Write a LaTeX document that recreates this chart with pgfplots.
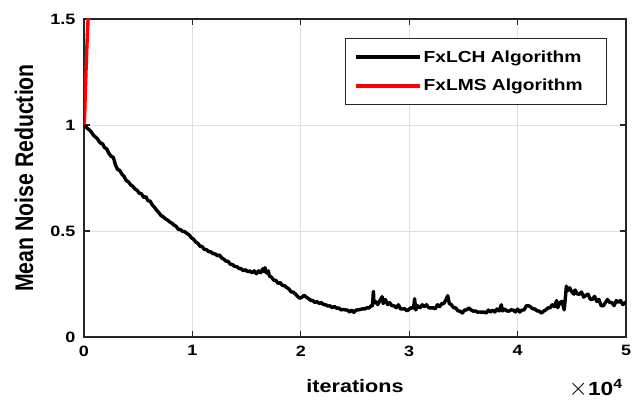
\documentclass[border=0pt]{standalone}
\usepackage{fontspec}
\setmainfont{Liberation Sans}[FakeStretch=1.2]
\newfontfamily\yfont{Liberation Sans}[FakeStretch=0.8333]
\usepackage{pgfplots}
\pgfplotsset{compat=1.18}
\definecolor{axc}{RGB}{38,38,38}
\definecolor{gridc}{RGB}{223,223,223}
\begin{document}
\begin{tikzpicture}
\begin{axis}[
  at={(0,0)}, anchor=south west,
  scale only axis, width=542pt, height=318pt,
  xmin=0, xmax=50000, ymin=0, ymax=1.5,
  scaled x ticks=false, scaled y ticks=false,
  xtick={0,10000,20000,30000,40000,50000}, xticklabels={0,1,2,3,4,5},
  ytick={0,0.5,1,1.5}, yticklabels={0,0.5,1,1.5},
  /pgf/number format/assume math mode=true,
  grid=major, grid style={color=gridc, line width=0.8pt},
  axis line style={color=axc, line width=1.3pt},
  tick style={color=axc, line width=1.3pt}, tick align=inside, major tick length=6pt,
  ticklabel style={font=\bfseries\fontsize{15}{15}\selectfont},
  xticklabel style={yshift=-5pt}, yticklabel style={xshift=-5pt},
  xlabel={iterations}, ylabel={Mean Noise Reduction},
  every axis x label/.style={at={(axis description cs:0.5,-0.176)}, anchor=base, font=\bfseries\fontsize{18}{18}\selectfont},
  every axis y label/.style={at={(axis description cs:-0.1107,0.5)}, rotate=90, anchor=center, font=\yfont\bfseries\fontsize{25.5}{25.5}\selectfont},
  legend style={at={(1,1)}, anchor=north east, xshift=-19pt, yshift=-19pt, draw=axc, line width=0.8pt, fill=white,
    font=\bfseries\fontsize{16}{16}\selectfont, inner xsep=8pt, inner ysep=10.5pt, row sep=11pt},
  legend cell align=left,
  legend image code/.code={\draw[#1, line width=4pt] (0pt,0pt) -- (64pt,0pt);},
]
\addplot[black, line width=3.4pt, line join=round] coordinates {
(0,1.0) (300,0.985) (600,0.972) (900,0.95) (1200,0.937) (1500,0.915) (1700,0.912) (1900,0.893) (2100,0.887) (2300,0.866) (2500,0.852) (2700,0.848) (2900,0.812) (3100,0.79) (3300,0.786) (3500,0.768) (3700,0.757) (3900,0.738) (4100,0.732) (4300,0.718) (4500,0.711) (4700,0.698) (4900,0.692) (5100,0.678) (5300,0.676) (5500,0.658) (5700,0.662) (5900,0.643) (6100,0.641) (6300,0.623) (6500,0.612) (6700,0.598) (6900,0.587) (7100,0.573) (7300,0.567) (7500,0.558) (7700,0.552) (7900,0.543) (8100,0.537) (8300,0.528) (8500,0.522) (8700,0.508) (8900,0.507) (9100,0.498) (9300,0.497) (9500,0.488) (9700,0.482) (9900,0.468) (10100,0.462) (10300,0.448) (10500,0.442) (10700,0.428) (10900,0.427) (11100,0.413) (11300,0.412) (11500,0.403) (11700,0.402) (11900,0.393) (12100,0.392) (12300,0.383) (12500,0.387) (12700,0.373) (12900,0.367) (13100,0.358) (13300,0.357) (13500,0.343) (13700,0.342) (13900,0.333) (14100,0.332) (14300,0.323) (14500,0.322) (14700,0.313) (14900,0.317) (15100,0.308) (15300,0.312) (15500,0.303) (15700,0.312) (15900,0.298) (16100,0.312) (16300,0.303) (16500,0.322) (16600,0.308) (16700,0.327) (16800,0.303) (16900,0.302) (17000,0.312) (17100,0.288) (17300,0.282) (17500,0.268) (17700,0.267) (17900,0.253) (18100,0.257) (18300,0.243) (18500,0.242) (18700,0.233) (18900,0.227) (19100,0.213) (19300,0.212) (19500,0.203) (19700,0.192) (19900,0.183) (20100,0.187) (20300,0.197) (20500,0.188) (20700,0.182) (20900,0.173) (21100,0.172) (21300,0.163) (21500,0.167) (21700,0.158) (21900,0.162) (22100,0.153) (22300,0.152) (22500,0.146) (22700,0.147) (22900,0.138) (23100,0.144) (23300,0.136) (23500,0.137) (23700,0.128) (23900,0.13) (24100,0.128) (24300,0.127) (24500,0.118) (24700,0.127) (24900,0.116) (25100,0.127) (25300,0.128) (25500,0.13) (25700,0.133) (25900,0.132) (26100,0.138) (26300,0.137) (26500,0.148) (26600,0.147) (26700,0.215) (26750,0.16) (26900,0.167) (27100,0.153) (27300,0.172) (27500,0.19) (27600,0.158) (27800,0.177) (28000,0.153) (28200,0.162) (28400,0.148) (28600,0.147) (28800,0.138) (29000,0.152) (29200,0.133) (29400,0.132) (29600,0.133) (29800,0.123) (30000,0.132) (30200,0.138) (30400,0.137) (30500,0.18) (30600,0.128) (30800,0.147) (31000,0.138) (31200,0.152) (31400,0.143) (31600,0.152) (31800,0.138) (32000,0.137) (32200,0.138) (32400,0.133) (32600,0.152) (32800,0.143) (33000,0.157) (33200,0.158) (33400,0.177) (33550,0.195) (33700,0.158) (33900,0.152) (34100,0.138) (34300,0.137) (34500,0.123) (34700,0.122) (34900,0.113) (35100,0.127) (35300,0.128) (35500,0.137) (35700,0.128) (35900,0.122) (36100,0.123) (36300,0.117) (36500,0.118) (36700,0.117) (36900,0.118) (37100,0.113) (37300,0.127) (37500,0.118) (37700,0.127) (37900,0.118) (38100,0.132) (38300,0.123) (38500,0.152) (38600,0.123) (38800,0.132) (39000,0.123) (39200,0.122) (39400,0.128) (39600,0.127) (39800,0.118) (40000,0.132) (40200,0.118) (40400,0.127) (40600,0.128) (40800,0.147) (41000,0.148) (41200,0.142) (41400,0.133) (41600,0.132) (41800,0.123) (42000,0.122) (42200,0.113) (42400,0.122) (42600,0.128) (42800,0.137) (43000,0.138) (43200,0.152) (43400,0.143) (43600,0.172) (43700,0.138) (43900,0.162) (44100,0.168) (44300,0.128) (44400,0.182) (44500,0.24) (44600,0.218) (44800,0.232) (45000,0.213) (45200,0.202) (45300,0.222) (45500,0.203) (45700,0.202) (45900,0.212) (46100,0.188) (46300,0.197) (46500,0.202) (46700,0.178) (46900,0.177) (47100,0.192) (47300,0.168) (47500,0.177) (47700,0.148) (47900,0.147) (48100,0.162) (48300,0.177) (48500,0.163) (48700,0.162) (48900,0.148) (49100,0.172) (49300,0.163) (49500,0.172) (49700,0.153) (50000,0.165)
};
\addlegendentry{FxLCH Algorithm\kern14pt}
\addplot[red, draw=red, line width=3.4pt, line join=round] coordinates {
(0,1.0) (60,1.05) (150,1.2) (250,1.35) (330,1.45) (400,1.52) (430,1.6)
};
\addlegendentry{FxLMS Algorithm\kern14pt}
\coordinate (se) at (rel axis cs:1,0);
\end{axis}
\node[anchor=base east, inner sep=0pt, font=\bfseries\fontsize{19}{19}\selectfont] at ([xshift=-3pt,yshift=-58pt]se) {{\fontsize{26}{26}\selectfont$\times$}10\textsuperscript{4}};
\pgfresetboundingbox
\path (-84pt,-62pt) rectangle (555pt,337pt);
\end{tikzpicture}
\end{document}
